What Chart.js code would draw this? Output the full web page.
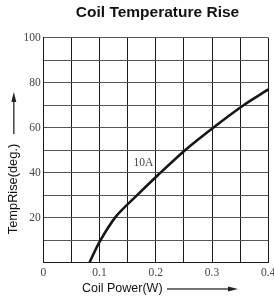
<!DOCTYPE html>
<html>
<head>
<meta charset="utf-8">
<script src="https://cdn.jsdelivr.net/npm/chart.js@4.4.1/dist/chart.umd.min.js"></script>
<style>
  html, body { margin: 0; padding: 0; background: #fff; }
  #wrap { width: 274px; height: 299px; }
</style>
</head>
<body>
<div id="wrap"><canvas id="c" width="274" height="299"></canvas></div>
<script>
// ---- data ----
const chartTitle = 'Coil Temperature Rise';
const xAxisTitle = 'Coil Power(W)';
const yAxisTitle = 'TempRise(deg.)';
const seriesLabel = '10A';
const powerW = [0.082, 0.100, 0.129, 0.165, 0.204, 0.252, 0.302, 0.356, 0.400];
const tempRise = [0, 9.3, 20.5, 29.6, 39.0, 50.0, 60.0, 70.0, 77.0];
const xTickLabels = ['0', '0.1', '0.2', '0.3', '0.4'];
const yTickLabels = ['20', '40', '60', '80', '100'];

const serif = '"Liberation Serif", "Times New Roman", serif';
const sans = '"Liberation Sans", Arial, sans-serif';

const decor = {
  id: 'decor',
  afterDraw(chart) {
    const ctx = chart.ctx;
    const xs = chart.scales.x, ys = chart.scales.y;
    ctx.save();
    // title
    ctx.fillStyle = '#111';
    ctx.font = 'bold 15.5px ' + sans;
    ctx.textAlign = 'center';
    ctx.textBaseline = 'middle';
    ctx.fillText(chartTitle, 157.5, 12.5);
    // x axis title + arrow
    ctx.font = '12.5px ' + sans;
    ctx.fillStyle = '#111';
    ctx.textAlign = 'left';
    ctx.fillText(xAxisTitle, 82, 288.5);
    ctx.strokeStyle = '#444';
    ctx.fillStyle = '#222';
    ctx.lineWidth = 1.5;
    ctx.beginPath(); ctx.moveTo(167, 289); ctx.lineTo(230, 289); ctx.stroke();
    ctx.beginPath(); ctx.moveTo(238, 289); ctx.lineTo(228, 286.5); ctx.lineTo(228, 291.5); ctx.closePath(); ctx.fill();
    // y axis title + arrow
    ctx.save();
    ctx.translate(13.8, 189);
    ctx.rotate(-Math.PI / 2);
    ctx.textAlign = 'center';
    ctx.fillStyle = '#111';
    ctx.font = '12.8px ' + sans;
    ctx.fillText(yAxisTitle, 0, 0);
    ctx.restore();
    ctx.beginPath(); ctx.moveTo(13.8, 134); ctx.lineTo(13.8, 100); ctx.stroke();
    ctx.beginPath(); ctx.moveTo(13.8, 92); ctx.lineTo(11.3, 102); ctx.lineTo(16.3, 102); ctx.closePath(); ctx.fill();
    // series label
    ctx.font = '11.5px ' + serif;
    ctx.fillStyle = '#444';
    ctx.textAlign = 'center';
    ctx.fillText(seriesLabel, xs.getPixelForValue(0.178), ys.getPixelForValue(44.3));
    ctx.restore();
  }
};

new Chart(document.getElementById('c'), {
  type: 'line',
  data: {
    datasets: [{
      label: seriesLabel,
      data: powerW.map((x, i) => ({ x, y: tempRise[i] })),
      borderColor: '#161616',
      borderWidth: 2.6,
      pointRadius: 0,
      tension: 0.3,
      borderJoinStyle: 'round',
      fill: false
    }]
  },
  options: {
    responsive: false,
    animation: false,
    devicePixelRatio: 1,
    layout: { padding: { top: 37.7, right: 5.7, left: 0, bottom: 0 } },
    plugins: { legend: { display: false }, title: { display: false }, tooltip: { enabled: false } },
    scales: {
      x: {
        type: 'linear', min: 0, max: 0.4,
        border: { display: true, color: '#1a1a1a', width: 1 },
        grid: { color: '#1a1a1a', lineWidth: 1, drawTicks: false },
        ticks: {
          stepSize: 0.05, autoSkip: false, maxRotation: 0, padding: 3,
          color: '#444', font: { family: serif, size: 11.5 },
          callback: (v) => {
            const k = Math.round(v * 10);
            return Math.abs(v * 10 - k) < 1e-6 ? xTickLabels[k] : '';
          }
        },
        afterFit: (s) => { s.height = 36.3; s.paddingLeft = 0; s.paddingRight = 0; }
      },
      y: {
        type: 'linear', min: 0, max: 100,
        border: { display: true, color: '#1a1a1a', width: 1 },
        grid: { color: '#555', lineWidth: 1, drawTicks: false },
        ticks: {
          stepSize: 10, autoSkip: false, padding: 2.5,
          color: '#444', font: { family: serif, size: 11.5 },
          callback: (v) => {
            const k = Math.round(v / 20);
            return (k > 0 && Math.abs(v - k * 20) < 1e-6) ? yTickLabels[k - 1] : '';
          }
        },
        afterFit: (s) => { s.width = 43.3; s.paddingTop = 0; s.paddingBottom = 0; }
      }
    }
  },
  plugins: [decor]
});
</script>
</body>
</html>
